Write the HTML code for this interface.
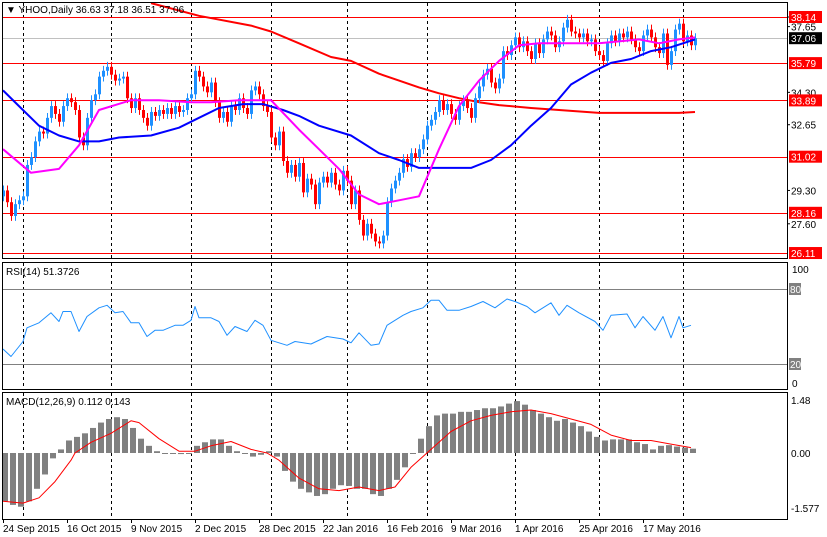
<!DOCTYPE html>
<html><head><meta charset="utf-8">
<style>
html,body{margin:0;padding:0;background:#fff;}
svg{display:block;font-family:"Liberation Sans",sans-serif;font-size:10px;}
</style></head>
<body>
<svg id="chart" width="827" height="537" viewBox="0 0 827 537" xmlns="http://www.w3.org/2000/svg">
<rect width="827" height="537" fill="#fff"/>
<g id="grid"></g>
<g id="main"></g>
<g id="rsi"></g>
<g id="macd"></g>
<g id="axes"></g>
</svg>
<script>
const closes=[29.3,28.7,28.0,28.6,28.8,29.0,30.6,31.0,31.8,32.3,32.2,33.0,33.6,33.2,32.8,33.6,34.0,33.8,33.4,32.0,31.6,33.0,33.9,34.2,35.1,35.4,35.6,35.2,34.9,35.0,35.1,34.0,33.5,34.0,33.4,33.0,32.6,33.3,33.1,33.4,33.2,33.5,33.2,33.6,33.3,33.4,34.0,34.2,35.4,35.1,34.6,34.3,34.8,33.8,33.0,33.3,32.8,33.6,33.4,34.0,33.5,33.2,34.4,34.6,34.2,33.6,33.3,32.0,31.6,32.3,30.8,30.2,30.6,30.0,30.7,29.2,29.9,29.6,28.6,29.7,30.0,29.7,30.2,29.6,29.3,30.3,29.8,28.6,29.3,27.8,27.0,27.6,27.1,26.7,26.6,27.0,28.7,29.4,29.8,30.2,30.9,30.5,31.2,31.0,31.4,31.9,32.6,32.9,33.3,33.9,33.4,33.7,33.2,32.9,33.6,33.9,33.5,33.0,34.0,34.6,35.2,35.5,34.8,34.5,35.0,36.4,36.2,36.7,37.1,36.6,36.9,36.4,36.0,36.8,36.3,37.0,37.4,37.2,36.6,36.9,37.6,38.0,37.4,37.3,37.1,37.3,36.9,37.0,36.4,36.2,35.9,36.8,37.2,36.9,37.3,37.1,37.4,37.0,36.6,36.4,37.2,37.5,37.1,36.6,36.3,37.3,35.7,36.4,37.5,37.8,36.9,37.2,36.7,37.06];
const firstOpen=29.0;
const pinkBars=[0,7,14,19,24,32,39,47,52,59,67,74,79,84,89,94,99,104,109,114,119,124,129,134,139,149,159,164,169,173];
const pinkVals=[31.4,30.2,30.4,31.6,33.4,33.9,33.9,33.8,33.8,33.9,33.9,32.4,31.4,30.4,29.1,28.6,28.8,29.0,31.4,33.6,34.9,35.9,36.7,36.8,36.8,36.8,37.0,36.8,37.0,37.1];
const blueBars=[0,4,9,14,19,24,29,37,44,49,54,60,65,70,74,79,87,94,99,104,109,117,122,127,132,137,142,147,152,157,162,167,173];
const blueVals=[34.4,33.6,32.6,32.1,31.8,31.8,32.0,32.1,32.5,33.0,33.5,33.7,33.7,33.4,33.1,32.6,32.1,31.2,30.85,30.45,30.45,30.45,30.85,31.6,32.6,33.5,34.7,35.3,35.8,36.0,36.4,36.6,37.0];
const redBars=[37,49,62,67,74,82,87,94,99,104,109,114,119,124,132,139,149,169,173];
const redVals=[38.85,38.2,37.7,37.4,36.8,36.1,35.9,35.25,34.9,34.55,34.25,34.0,33.8,33.65,33.5,33.4,33.25,33.25,33.3];
const levels=[38.14,35.79,33.89,31.02,28.16,26.11];
const lastPrice=37.06;
const priceTicks=["38.14","37.65","34.30","32.65","29.30","27.60"];
const rsiBars=[0,2,5,6,9,12,14,15,17,19,21,24,26,28,30,32,34,36,38,40,43,45,47,48,49,52,54,56,58,61,63,65,67,71,73,77,81,85,87,89,92,94,96,100,102,105,107,109,111,114,117,120,123,126,128,131,133,137,139,141,144,148,150,152,156,158,160,163,165,167,169,170,172];
const rsiVals=[32,26,38,49,53,61,54,62,62,46,58,65,67,61,62,53,53,42,47,47,51,51,55,66,57,57,54,43,50,46,55,51,39,35,38,36,42,40,37,45,35,36,51,59,62,65,71,71,63,63,66,70,65,72,70,66,61,69,59,67,61,54,47,59,60,49,58,47,58,41,58,49,51];
const histVals=[-1.35,-1.45,-1.5,-1.35,-1.0,-0.6,-0.15,0.1,0.35,0.45,0.55,0.7,0.85,0.95,1.0,0.95,0.7,0.4,0.2,0.05,0.0,-0.02,-0.03,-0.02,0.2,0.3,0.38,0.38,0.2,0.05,0.0,-0.1,-0.05,0.05,-0.1,-0.5,-0.8,-1.0,-1.1,-1.2,-1.15,-1.0,-0.9,-0.92,-1.0,-1.0,-1.15,-1.2,-1.0,-0.75,-0.4,0.0,0.4,0.75,1.05,1.1,1.1,1.15,1.15,1.2,1.25,1.25,1.3,1.38,1.45,1.35,1.2,1.1,1.0,0.9,0.95,0.85,0.75,0.6,0.45,0.35,0.38,0.38,0.38,0.3,0.25,0.1,0.2,0.22,0.18,0.15,0.12];
const sigBars=[0,5,9,13,17,18,22,27,32,34,39,44,48,52,57,62,66,69,74,79,84,89,94,98,102,107,112,117,122,127,132,137,142,147,152,157,162,167,172];
const sigVals=[-1.35,-1.4,-1.25,-0.8,-0.2,0,0.3,0.55,0.9,0.85,0.4,0.05,0.05,0.2,0.32,0.1,0.0,-0.2,-0.7,-1.0,-1.05,-0.95,-1.05,-0.95,-0.4,0.1,0.6,0.9,1.05,1.15,1.2,1.1,0.95,0.8,0.5,0.35,0.35,0.25,0.15];
const dateLabels=["24 Sep 2015","16 Oct 2015","9 Nov 2015","2 Dec 2015","28 Dec 2015","22 Jan 2016","16 Feb 2016","9 Mar 2016","1 Apr 2016","25 Apr 2016","17 May 2016"];
const gridBars=[5,27,47,67,86,106,128,149,170];

const NS="http://www.w3.org/2000/svg";
const X=i=>3+4*i;
const PY=p=>17+(38.14-p)*19.62;
const RY=v=>389-v*1.25;
const MY=v=>453-v*35.8;
function mk(parent,tag,attrs){const e=document.createElementNS(NS,tag);for(const k in attrs)e.setAttribute(k,attrs[k]);document.getElementById(parent).appendChild(e);return e;}

[[2,2,785,256],[2,262,785,127],[2,392,785,127]].forEach((r,k)=>{
 const e=mk('axes','rect',{x:r[0]+0.5,y:r[1]+0.5,width:r[2],height:r[3],fill:'none',stroke:'#000'});
 
 
});
gridBars.forEach(b=>{[[3,258],[263,389],[393,519]].forEach(s=>{
 const e=mk('grid','line',{x1:X(b)+0.5,x2:X(b)+0.5,y1:s[0],y2:s[1],stroke:'#000','stroke-dasharray':'3,3'});
 
 
});});
levels.forEach(l=>{
 const e=mk('main','line',{x1:3,x2:787,y1:Math.round(PY(l))+0.5,y2:Math.round(PY(l))+0.5,stroke:'#f00'});
 
 
});
{const e=mk('main','line',{x1:3,x2:787,y1:Math.round(PY(lastPrice))+0.5,y2:Math.round(PY(lastPrice))+0.5,stroke:'#c0c0c0'});

}
function poly(g,bars,vals,fy,color,w,name){
 const pts=bars.map((b,i)=>X(b)+','+fy(vals[i]).toFixed(1)).join(' ');
 const e=mk(g,'polyline',{points:pts,fill:'none',stroke:color,'stroke-width':w,'stroke-linejoin':'round'});
 
 
}
poly('main',redBars,redVals,PY,'#f00',2,'ma-200-line');
closes.forEach((c,i)=>{
 const o=i===0?firstOpen:closes[i-1];
 const hi=Math.max(o,c)+0.25, lo=Math.min(o,c)-0.25;
 const col=c>=o?'#1e90ff':'#f00';
 const w=mk('main','line',{x1:X(i)+0.5,x2:X(i)+0.5,y1:PY(hi),y2:PY(lo),stroke:col});
 
 
 const y1=PY(Math.max(o,c)),y2=PY(Math.min(o,c));
 const b=mk('main','rect',{x:X(i)-1,y:y1,width:3,height:Math.max(1,y2-y1),fill:col});
 
 
});
poly('main',blueBars,blueVals,PY,'#0000ff',2,'ma-50-line');
poly('main',pinkBars,pinkVals,PY,'#ff00ff',2,'ma-20-line');
priceTicks.forEach(t=>{
 const y=PY(parseFloat(t));
 const e=mk('axes','text',{x:791,y:y+4,fill:'#000'});e.textContent=t;
 
 
 mk('axes','line',{x1:787,x2:790,y1:y,y2:y,stroke:'#000'});
});
levels.forEach(l=>{
 const y=PY(l);
 const r=mk('axes','rect',{x:789,y:y-6,width:33,height:12,fill:'#f00'});
 
 
 const e=mk('axes','text',{x:791,y:y+4,fill:'#fff'});e.textContent=l.toFixed(2);
 
 
});
{const y=PY(lastPrice);
const r=mk('axes','rect',{x:789,y:y-6,width:33,height:12,fill:'#000'});


const e=mk('axes','text',{x:791,y:y+4,fill:'#fff'});e.textContent=lastPrice.toFixed(2);

}
{const e=mk('main','text',{x:6,y:13,fill:'#000'});e.textContent='\u25BC YHOO,Daily  36.63 37.18 36.51 37.06';

}
[80,20].forEach(v=>{
 const e=mk('rsi','line',{x1:3,x2:787,y1:RY(v)+0.5,y2:RY(v)+0.5,stroke:'#808080'});
 
 
 const r=mk('axes','rect',{x:789,y:RY(v)-6,width:12,height:12,fill:'#808080'});
 
 
 const t=mk('axes','text',{x:790,y:RY(v)+4,fill:'#fff'});t.textContent=v;
 
 
});
[100,0].forEach(v=>{const t=mk('axes','text',{x:792,y:v===100?273:387,fill:'#000'});t.textContent=v;
 
 });
poly('rsi',rsiBars,rsiVals,RY,'#1e90ff',1,'rsi-line');
{const e=mk('rsi','text',{x:6,y:275,fill:'#000'});e.textContent='RSI(14) 51.3726';

}
histVals.forEach((v,k)=>{
 const i=k*2;
 const y0=MY(0),y1=MY(v);
 const e=mk('macd','rect',{x:X(i)-1,y:Math.min(y0,y1),width:6,height:Math.max(1,Math.abs(y1-y0)),fill:'#808080'});
 
 
});
poly('macd',sigBars,sigVals,MY,'#f00',1,'macd-signal-line');
{const e=mk('macd','text',{x:6,y:405,fill:'#000'});e.textContent='MACD(12,26,9) 0.112 0.143';

}
[[1.48,'1.48'],[0,'0.00'],[-1.577,'-1.577']].forEach(p=>{
 const y=p[0]===-1.577?512:MY(p[0])+4;
 const t=mk('axes','text',{x:791,y:y,fill:'#000'});t.textContent=p[1];
 
 
});
dateLabels.forEach((d,k)=>{
 const x=X(k*16);
 mk('axes','line',{x1:x+0.5,x2:x+0.5,y1:519,y2:523,stroke:'#000'});
 const t=mk('axes','text',{x:x,y:532,fill:'#000'});t.textContent=d;
 
 
});
</script>
</body></html>
